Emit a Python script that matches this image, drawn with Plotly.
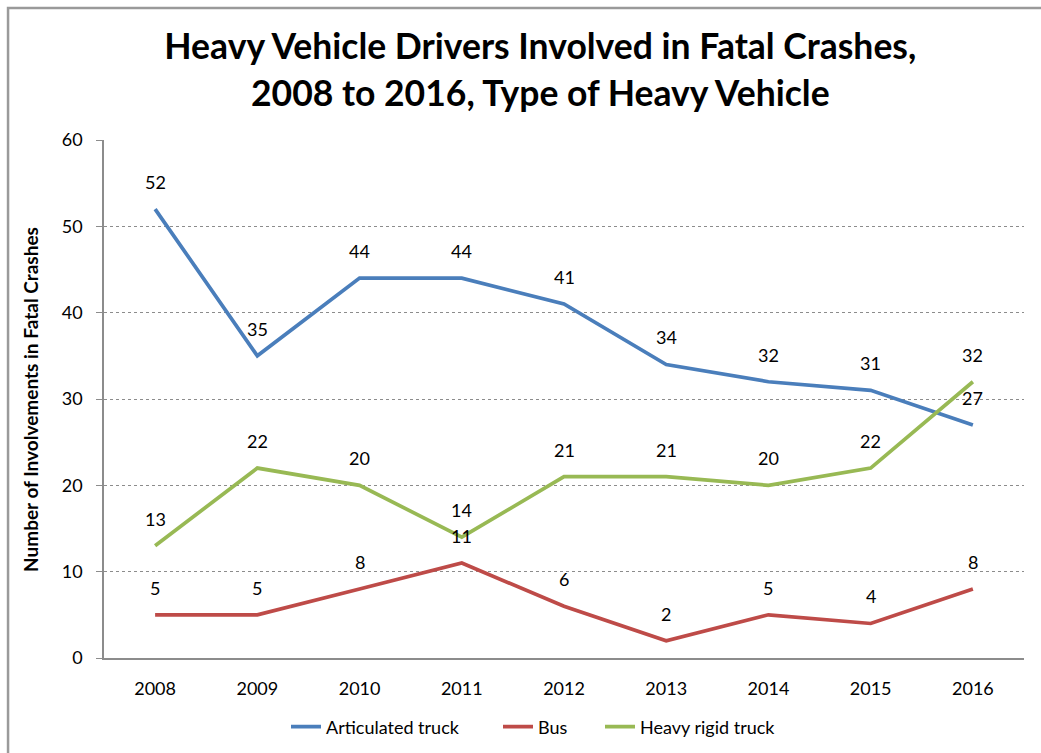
import plotly.graph_objects as go

years = ["2008", "2009", "2010", "2011", "2012", "2013", "2014", "2015", "2016"]
articulated = [52, 35, 44, 44, 41, 34, 32, 31, 27]
bus = [5, 5, 8, 11, 6, 2, 5, 4, 8]
rigid = [13, 22, 20, 14, 21, 21, 20, 22, 32]
y_ticks = [0, 10, 20, 30, 40, 50, 60]

series = [
    ("Articulated truck", articulated, "#4A7EBB", "legend"),
    ("Bus", bus, "#BE4B48", "legend2"),
    ("Heavy rigid truck", rigid, "#98B954", "legend3"),
]

FONT = "Lato, Carlito, Calibri, sans-serif"

fig = go.Figure()
annotations = []
for name, vals, color, lg in series:
    fig.add_trace(go.Scatter(
        x=years, y=vals, name=name, mode="lines",
        line=dict(color=color, width=3.7), legend=lg,
    ))
    for i, yv in enumerate(vals):
        annotations.append(dict(
            x=i, y=yv, xref="x", yref="y", text=str(yv), showarrow=False,
            yshift=27, font=dict(family=FONT, size=18, color="#000000"),
        ))

annotations.append(dict(
    x=-0.0805, y=0.5, xref="paper", yref="paper", xanchor="center", yanchor="middle",
    text="<b>Number of Involvements in Fatal Crashes</b>",
    textangle=-90, showarrow=False,
    font=dict(family=FONT, size=19, color="#000000"),
))

def legend_at(text_start_px):
    return dict(
        orientation="h", x=(text_start_px - 40 - 104) / 920, xanchor="left",
        y=-0.133, yanchor="middle",
        font=dict(family=FONT, size=18, color="#000000"),
        bgcolor="rgba(0,0,0,0)", itemwidth=30,
    )

fig.update_layout(
    width=1041, height=753,
    margin=dict(l=104, r=17, t=140, b=95, autoexpand=False),
    paper_bgcolor="white", plot_bgcolor="white",
    title=dict(
        text="<b>Heavy Vehicle Drivers Involved in Fatal Crashes,<br>2008 to 2016, Type of Heavy Vehicle</b>",
        x=0.519, xanchor="center", y=0.921, yanchor="middle",
        font=dict(family=FONT, size=35.5, color="#000000"),
    ),
    font=dict(family=FONT, size=18, color="#000000"),
    showlegend=True,
    legend=legend_at(326),
    legend2=legend_at(538),
    legend3=legend_at(640),
    annotations=annotations,
    shapes=[dict(
        type="rect", xref="paper", yref="paper",
        x0=-0.1043, y0=-0.5, x1=1.5, y1=1.2548,
        line=dict(color="#9a9a9a", width=2.5), layer="below",
    )],
)

fig.update_xaxes(
    type="category", range=[-0.5, 8.5], automargin=False,
    showgrid=False, showline=True, linecolor="#8c8c8c", linewidth=1.5,
    ticks="", ticklabelstandoff=14,
    tickfont=dict(family=FONT, size=18, color="#000000"),
)
fig.update_yaxes(
    range=[0, 60], tickvals=y_ticks, automargin=False,
    showgrid=True, gridcolor="#8c8c8c", griddash="dot", gridwidth=1,
    showline=True, linecolor="#8c8c8c", linewidth=1.5,
    ticks="outside", ticklen=6, tickcolor="#8c8c8c", ticklabelstandoff=10,
    zeroline=False,
    tickfont=dict(family=FONT, size=18, color="#000000"),
)

fig.write_html("out.html", config={"displayModeBar": False},
               post_script="document.body.style.margin='0';")
